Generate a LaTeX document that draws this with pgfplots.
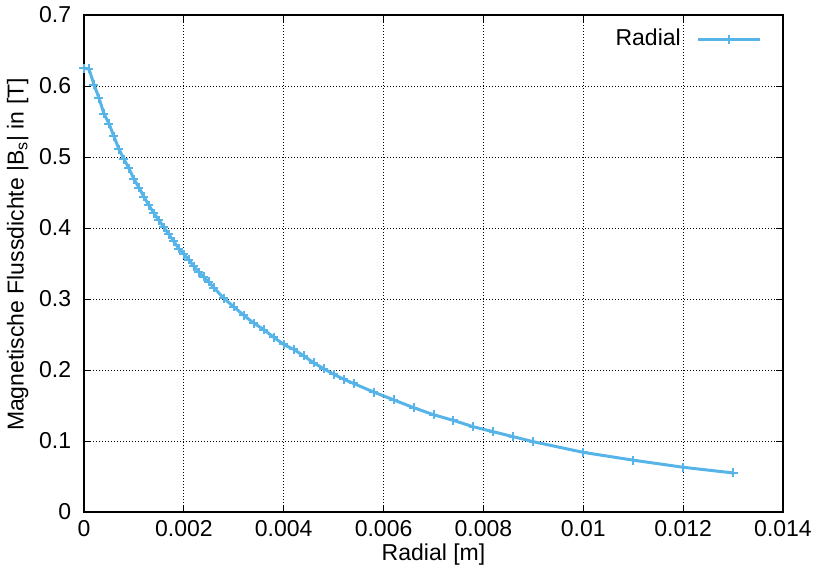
\documentclass[border=0pt]{standalone}
\usepackage{fontspec}
\setmainfont{Liberation Sans}
\usepackage{pgfplots}
\pgfplotsset{compat=1.18}
\definecolor{lineblue}{RGB}{86,180,233}
\begin{document}
\fontsize{23}{27}\selectfont
\begin{tikzpicture}
\begin{axis}[
  scale only axis,
  width=699pt, height=497pt,
  xmin=0, xmax=0.014, ymin=0, ymax=0.7,
  xtick={0,0.002,0.004,0.006,0.008,0.01,0.012,0.014},
  xticklabels={0,0.002,0.004,0.006,0.008,0.01,0.012,0.014},
  scaled x ticks=false, scaled y ticks=false,
  ytick={0,0.1,0.2,0.3,0.4,0.5,0.6,0.7},
  yticklabels={0,0.1,0.2,0.3,0.4,0.5,0.6,0.7},
  /pgf/number format/assume math mode=true,
  tick align=inside,
  major tick length=7pt,
  tick style={black, line width=0.9pt},
  axis line style={black, line width=1.3pt},
  grid=major,
  major grid style={black, line width=0.8pt, dash pattern=on 1pt off 2pt},
  yticklabel style={xshift=-5pt},
  xticklabel style={yshift=-1pt},
  xlabel={Radial [m]},
  ylabel={Magnetische Flussdichte |B\textsubscript{s}| in [T]},
  xlabel style={at={(axis description cs:0.5,-0.049)}, anchor=north},
  ylabel style={at={(axis description cs:-0.068,0.518)}, anchor=south},
  legend style={draw=none, fill=none, at={(rel axis cs:1,1)}, anchor=north east, xshift=-18pt, yshift=-10pt, font=\fontsize{23}{27}\selectfont},
  legend plot pos=right,
  legend cell align=right,
  clip=false,
]
\addplot[color=lineblue, line width=3pt, mark=+, mark size=4.5pt, mark options={line width=2pt},
  legend image code/.code={\path (0pt,0pt); \draw[mark repeat=2,mark phase=2] plot coordinates {(14pt,0pt)(45pt,0pt)(76pt,0pt)};}]
coordinates {
(0,0.625)(0.0001,0.624)(0.0002,0.602)(0.0003,0.583)(0.0004,0.561)(0.0005,0.547)
(0.0006,0.529)(0.0007,0.511)(0.0008,0.497)(0.0009,0.484)(0.0010,0.469)(0.0011,0.457)
(0.0012,0.444)(0.0013,0.432)(0.0014,0.421)(0.0015,0.411)(0.0016,0.401)(0.0017,0.391)
(0.0018,0.381)(0.0019,0.371)(0.0020,0.363)(0.0021,0.355)(0.0022,0.346)(0.0023,0.338)
(0.0024,0.331)(0.0025,0.324)(0.0026,0.316)(0.0028,0.301)(0.0030,0.289)(0.0032,0.277)
(0.0034,0.266)(0.0036,0.257)(0.0038,0.246)(0.0040,0.236)(0.0042,0.229)(0.0044,0.220)
(0.0046,0.210)(0.0048,0.202)(0.0050,0.194)(0.0052,0.187)(0.0054,0.181)(0.0058,0.169)
(0.0062,0.158)(0.0066,0.147)(0.0070,0.137)(0.0074,0.129)(0.0078,0.120)(0.0082,0.113)
(0.0086,0.106)(0.0090,0.099)(0.0100,0.084)(0.0110,0.073)(0.0120,0.063)(0.0130,0.055)
};
\addlegendentry{Radial}
\coordinate (bl) at (rel axis cs:0,0);
\coordinate (tr) at (rel axis cs:1,1);
\end{axis}
\pgfresetboundingbox
\useasboundingbox ([shift={(-84pt,-55pt)}]bl) rectangle ([shift={(35pt,15pt)}]tr);
\end{tikzpicture}
\end{document}
